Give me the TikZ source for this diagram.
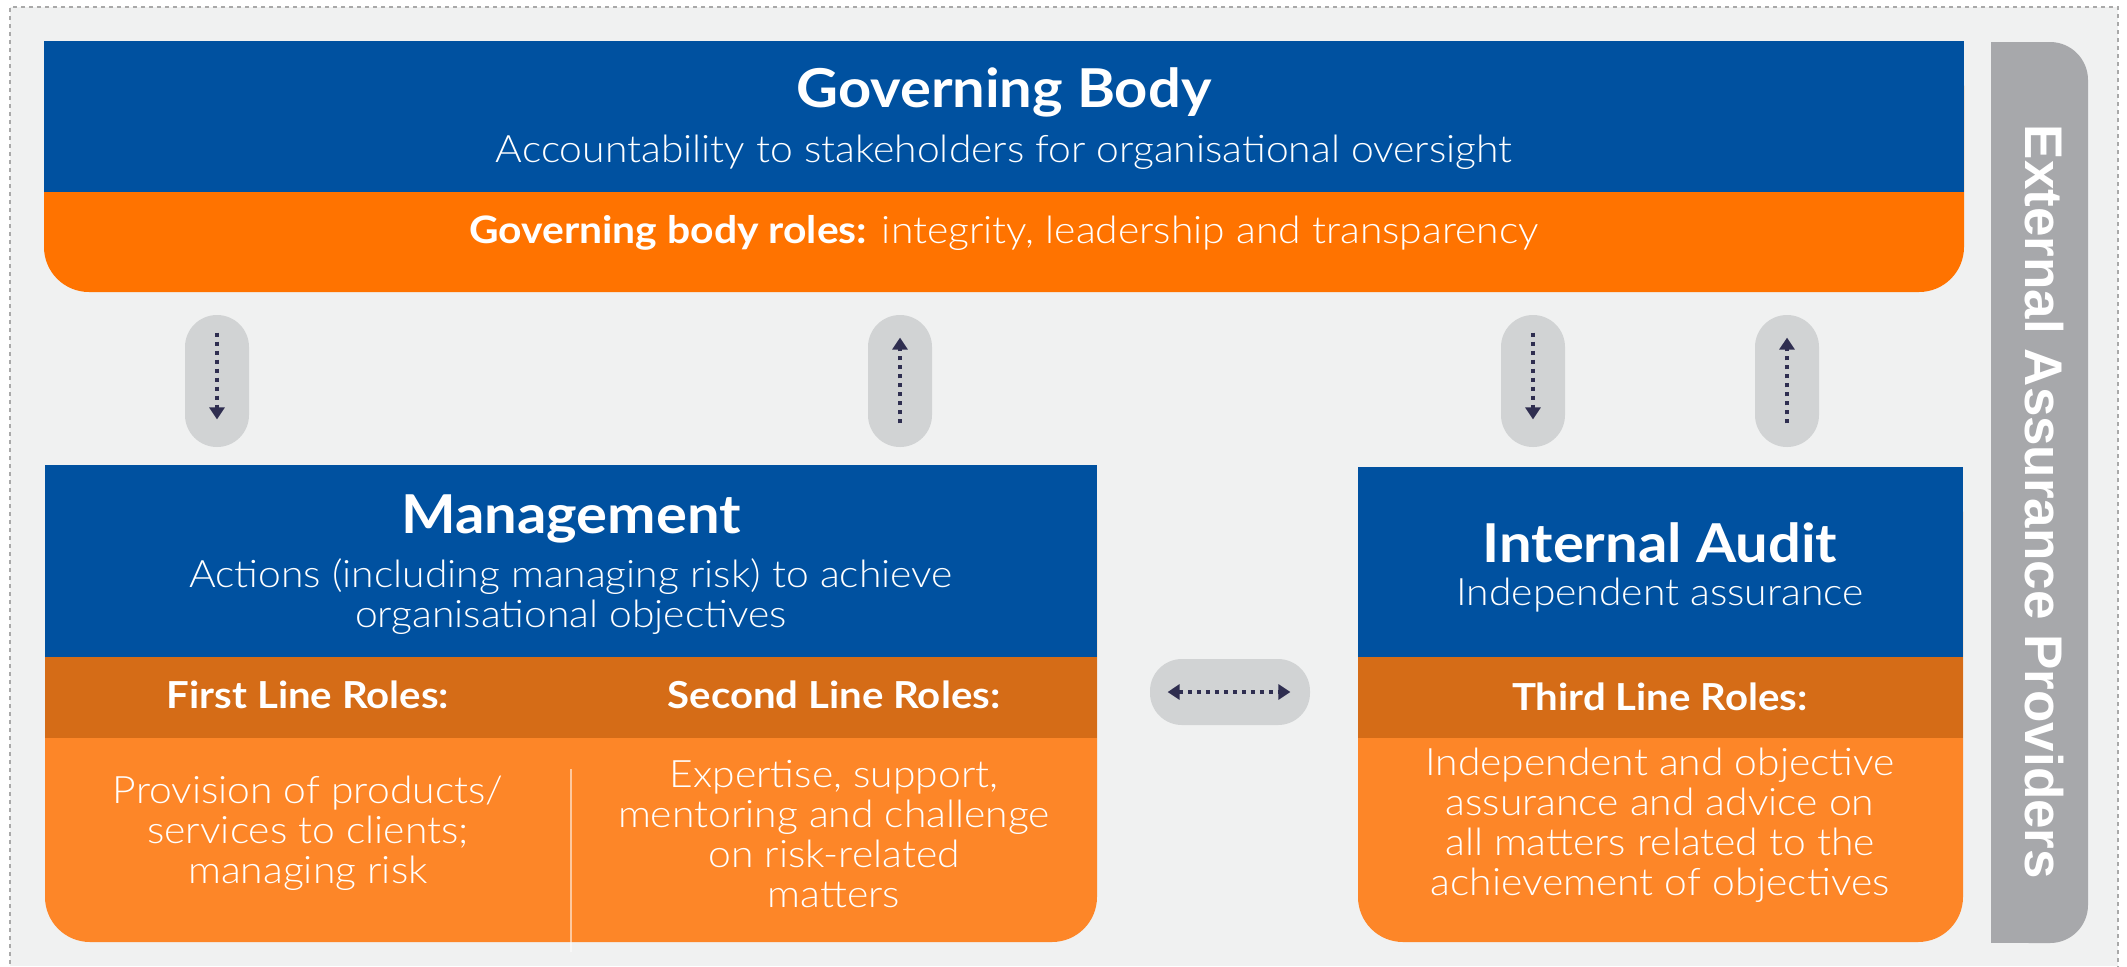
\documentclass[tikz,border=0pt]{standalone}
\usepackage{fontspec}
\setmainfont{Lato}[FakeStretch=1.08]
\newfontfamily\lightfont{Lato Light}[FakeStretch=1.08]
\newfontfamily\barfont{Liberation Sans}
\usetikzlibrary{arrows.meta}

\definecolor{govblue}{HTML}{0051A0}
\definecolor{toporange}{HTML}{FF7300}
\definecolor{hdrorange}{HTML}{D56C17}
\definecolor{bodyorange}{HTML}{FD8628}
\definecolor{pillgrey}{HTML}{D1D3D4}
\definecolor{arrownavy}{HTML}{2F2E50}
\definecolor{bargrey}{HTML}{A7A8AB}
\definecolor{canvas}{HTML}{F0F1F1}
\definecolor{framegrey}{HTML}{A9A9A9}

\tikzset{
  titletext/.style={text=white, inner sep=0pt, anchor=base, font=\bfseries\fontsize{26.8pt}{30pt}\selectfont},
  subtext/.style={text=white, inner sep=0pt, anchor=base, align=center, font=\lightfont\fontsize{18.9pt}{20pt}\selectfont},
  headtext/.style={text=white, inner sep=0pt, anchor=base, font=\bfseries\fontsize{18.6pt}{20pt}\selectfont},
  bodytext/.style={text=white, inner sep=0pt, anchor=base, align=center, font=\lightfont\fontsize{18.9pt}{20pt}\selectfont},
  vpill/.style={fill=pillgrey, draw=none, rounded corners=16pt, minimum width=32pt, minimum height=66pt, inner sep=0pt},
  hpill/.style={fill=pillgrey, draw=none, rounded corners=16pt, minimum width=80pt, minimum height=33pt, inner sep=0pt},
  flow/.style={draw=arrownavy, line width=2pt, dash pattern=on 2pt off 2.5pt, -{Triangle[length=6pt,width=7.5pt]}},
  flowboth/.style={draw=arrownavy, line width=2pt, dash pattern=on 2pt off 2.5pt, {Triangle[length=6pt,width=7.5pt]}-{Triangle[length=6pt,width=7.5pt]}}
}

\begin{document}
\begin{tikzpicture}[x=0.5pt, y=-0.5pt]
\useasboundingbox (0,0) rectangle (2127,966);
\fill[white] (0,0) rectangle (2127,966);

% canvas and dashed frame
\fill[canvas] (10,7) rectangle (2118,966);
\draw[framegrey, line width=1pt, dash pattern=on 2pt off 2pt] (10,980) -- (10,7) -- (2118,7) -- (2118,980);

% governing body
\fill[toporange, rounded corners=22.5pt] (44,41) rectangle (1964,292);
\fill[govblue] (44,41) rectangle (1964,192);

% management
\fill[bodyorange, rounded corners=22.5pt] (45,465) rectangle (1097,942);
\fill[govblue] (45,465) rectangle (1097,657);
\fill[hdrorange] (45,657) rectangle (1097,738);
\draw[white, opacity=0.55, line width=0.9pt] (571,769) -- (571,952);

% internal audit
\fill[bodyorange, rounded corners=22.5pt] (1358,467) rectangle (1963,942);
\fill[govblue] (1358,467) rectangle (1963,657);
\fill[hdrorange] (1358,657) rectangle (1963,738);

% external assurance bar
\fill[bargrey, rounded corners=19pt] (1991,42) rectangle (2088,943);
\fill[bargrey] (1991,42) rectangle (2040,943);
\node[text=white, inner sep=0pt, anchor=base, rotate=-90,
      font=\barfont\bfseries\fontsize{26.5pt}{30pt}\selectfont] (ext) at (2025,502) {External Assurance Providers};

% texts: governing body
\node[titletext] (gbtitle) at (1004,107) {Governing Body};
\node[subtext] (gbsub) at (1004,162) {Accountability to stakeholders for organisational oversight};
\node[subtext] (gbroles) at (1004,243) {{\normalfont\bfseries Governing body roles:} integrity, leadership and transparency};

% texts: management (multi-line nodes sit on their last baseline)
\node[titletext] (mgtitle) at (571,533) {Management};
\node[subtext] (mgsub) at (571,627) {Actions (including managing risk) to achieve\\organisational objectives};
\node[headtext] (first) at (308,708) {First Line Roles:};
\node[headtext] (second) at (834,708) {Second Line Roles:};
\node[bodytext] (firstbody) at (308,883) {Provision of products/\\services to clients;\\managing risk};
\node[bodytext] (secondbody) at (834,907) {Expertise, support,\\mentoring and challenge\\on risk-related\\matters};

% texts: internal audit
\node[titletext] (iatitle) at (1660,562) {Internal Audit};
\node[subtext] (iasub) at (1660,605) {Independent assurance};
\node[headtext] (third) at (1660,710) {Third Line Roles:};
\node[bodytext] (thirdbody) at (1660,895) {Independent and objective\\assurance and advice on\\all matters related to the\\achievement of objectives};

% reporting pills and arrows
\node[vpill] (p1) at (217,381) {};
\node[vpill] (p2) at (900,381) {};
\node[vpill] (p3) at (1533,381) {};
\node[vpill] (p4) at (1787,381) {};
\node[hpill] (p5) at (1230,692) {};

\draw[flow, shorten <=9pt, shorten >=14pt] (p1.north) -- (p1.south);
\draw[flow, shorten <=12pt, shorten >=11.5pt] (p2.south) -- (p2.north);
\draw[flow, shorten <=9pt, shorten >=14pt] (p3.north) -- (p3.south);
\draw[flow, shorten <=12pt, shorten >=11.5pt] (p4.south) -- (p4.north);
\draw[flowboth, shorten <=9pt, shorten >=10pt] (p5.west) -- (p5.east);
\end{tikzpicture}
\end{document}
